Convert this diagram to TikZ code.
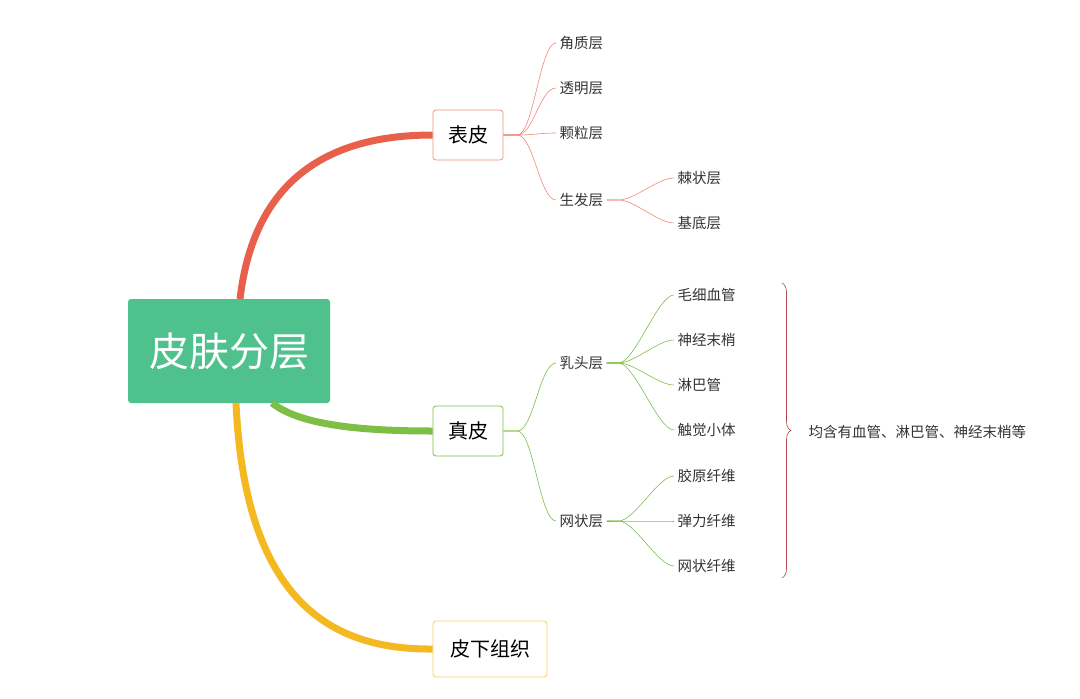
\documentclass[tikz,border=0pt]{standalone}
\usepackage{fontspec}
\setmainfont{Noto Sans CJK SC}
\usetikzlibrary{positioning,decorations.pathreplacing}
\definecolor{rootgreen}{HTML}{4EC18C}
\definecolor{epired}{HTML}{E8604C}
\definecolor{dermgreen}{HTML}{7DBE45}
\definecolor{subyellow}{HTML}{F4B921}
\definecolor{bracered}{HTML}{B04A4E}
\begin{document}
\begin{tikzpicture}[x=1pt,y=-1pt,
		root/.style = {rectangle, fill=rootgreen, text=white, rounded corners=3pt,
			minimum width=202pt, minimum height=104pt, font=\fontsize{40}{40}\selectfont},
		main/.style = {rectangle, draw=#1, fill=white, rounded corners=3pt, thick,
			minimum height=50pt, minimum width=70pt, font=\fontsize{20}{20}\selectfont},
		leaf/.style = {anchor=west, font=\fontsize{14.5}{15}\selectfont, text=black!80},
		trunk/.style = {draw=#1, line width=7pt},
		twig/.style = {draw=#1, semithick},
	]
	\useasboundingbox (0,0) rectangle (1080,699);
	% nodes
	\node [root] (skin) at (229,351) {皮肤分层};
	\node [main=epired!70] (epi) at (468,135) {表皮};
	\node [main=dermgreen] (derm) at (468,431) {真皮};
	\node [main=subyellow!70, minimum height=56pt, minimum width=114pt] (sub) at (490,649) {皮下组织};
	\node [leaf] (horny) at (556,43) {角质层};
	\node [leaf] (clear) at (556,88) {透明层};
	\node [leaf] (grain) at (556,133) {颗粒层};
	\node [leaf] (germ) at (556,200) {生发层};
	\node [leaf] (spiny) at (674,178) {棘状层};
	\node [leaf] (basal) at (674,223) {基底层};
	\node [leaf] (papil) at (556,363) {乳头层};
	\node [leaf] (retic) at (556,521) {网状层};
	\node [leaf] (capil) at (674,295) {毛细血管};
	\node [leaf] (nerve) at (674,340) {神经末梢};
	\node [leaf] (lymph) at (674,385) {淋巴管};
	\node [leaf] (touch) at (674,430) {触觉小体};
	\node [leaf] (colla) at (674,476) {胶原纤维};
	\node [leaf] (elast) at (674,521) {弹力纤维};
	\node [leaf] (retfib) at (674,566) {网状纤维};
	\node [leaf] (note) at (805,432) {均含有血管、淋巴管、神经末梢等};
	% trunks
	\coordinate (rtop) at (240,299);
	\coordinate (rbot) at (272,403);
	\coordinate (rlow) at (236,403);
	\path [trunk=epired] (rtop) .. controls (255,170) and (340,135) .. (epi.west);
	\path [trunk=dermgreen] (rbot) .. controls (300,425) and (360,431) .. (derm.west);
	\path [trunk=subyellow] (rlow) .. controls (245,600) and (330,650) .. (sub.west);
	% branches
	\foreach \kid in {horny,clear,grain,germ}
		\path [twig=epired!75] (epi.east) -- ++(14,0) .. controls +(16,0) and +(-16,0) .. (\kid.west);
	\foreach \kid in {spiny,basal}
		\path [twig=epired!75] (germ.east) -- ++(12,0) .. controls +(16,0) and +(-16,0) .. (\kid.west);
	\foreach \kid in {papil,retic}
		\path [twig=dermgreen] (derm.east) -- ++(14,0) .. controls +(16,0) and +(-16,0) .. (\kid.west);
	\foreach \kid in {capil,nerve,lymph,touch}
		\path [twig=dermgreen] (papil.east) -- ++(12,0) .. controls +(16,0) and +(-16,0) .. (\kid.west);
	\foreach \kid in {colla,elast,retfib}
		\path [twig=dermgreen] (retic.east) -- ++(12,0) .. controls +(16,0) and +(-16,0) .. (\kid.west);
	\draw [bracered, semithick, decorate, decoration={brace, amplitude=9pt}]
		(782,283) -- (782,578);
\end{tikzpicture}
\end{document}
